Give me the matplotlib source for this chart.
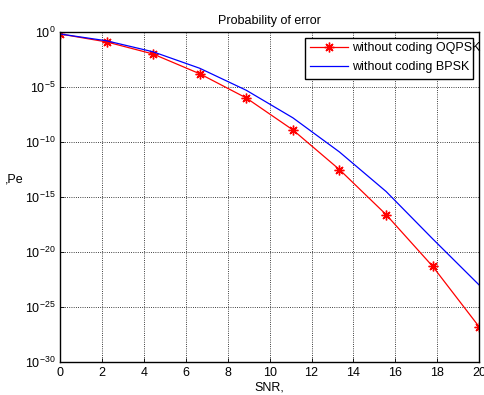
import matplotlib
matplotlib.use("Agg")
import matplotlib.pyplot as plt
import matplotlib.ticker as mticker
from matplotlib.patches import Rectangle
import numpy as np

plt.rcParams['font.family'] = ['Liberation Sans', 'DejaVu Sans']
plt.rcParams['mathtext.fontset'] = 'custom'
plt.rcParams['mathtext.rm'] = 'Liberation Sans'

# SNR points (dB) and log10 of error probability
snr = [0, 2.22, 4.44, 6.67, 8.89, 11.11, 13.33, 15.56, 17.78, 20]
log_pe_oqpsk = [-0.18, -0.9, -2.0, -3.8, -6.0, -8.9, -12.5, -16.6, -21.3, -26.8]
log_pe_bpsk = [-0.18, -0.8, -1.8, -3.3, -5.3, -7.8, -10.9, -14.5, -18.8, -23.0]

pe_oqpsk = [10.0**v for v in log_pe_oqpsk]
pe_bpsk = [10.0**v for v in log_pe_bpsk]

fig = plt.figure(figsize=(4.84, 3.95), dpi=100)
ax = fig.add_axes([0.124, 0.0835, 0.866, 0.8355])

# matlab style asterisk marker
ax.semilogy(snr, pe_oqpsk, color='red', marker=(8, 2, 0), markersize=7,
            markeredgewidth=1.0, lw=0.9, label='without coding OQPSK')
ax.semilogy(snr, pe_bpsk, color='blue', lw=0.9, label='without coding BPSK')

ax.set_xlim(0, 20)
ax.set_ylim(1e-30, 1e0)
ax.set_xticks(range(0, 21, 2))
ax.yaxis.set_major_locator(mticker.FixedLocator([10.0**(-k) for k in range(0, 31, 5)]))
ax.yaxis.set_minor_locator(mticker.NullLocator())
ax.yaxis.set_major_formatter(mticker.FuncFormatter(
    lambda v, p: r'$\mathregular{10^{%d}}$' % round(np.log10(v))))

ax.grid(True, color='black', linestyle=':', linewidth=0.6)
ax.tick_params(direction='in', labelsize=9, length=3, width=0.6)
for s in ax.spines.values():
    s.set_linewidth(1.0)

ax.set_title('Probability of error', fontsize=9)
ax.set_xlabel('SNR,', fontsize=9, labelpad=2)
ax.set_ylabel(',Pe', fontsize=9, rotation=0)
ax.yaxis.set_label_coords(-0.11, 0.535)

# legend box is narrower than its text in the original
box = Rectangle((0.585, 0.858), 0.401, 0.124, transform=ax.transAxes,
                facecolor='white', edgecolor='black', lw=1.0, zorder=4.9)
ax.add_patch(box)
leg = ax.legend(loc='upper left', bbox_to_anchor=(0.585, 0.982), fontsize=9,
                handlelength=3.1, handletextpad=0.3, borderaxespad=0,
                borderpad=0.35, labelspacing=0.55, frameon=False)
leg.set_zorder(5)

fig.savefig('out.png', dpi=100)
